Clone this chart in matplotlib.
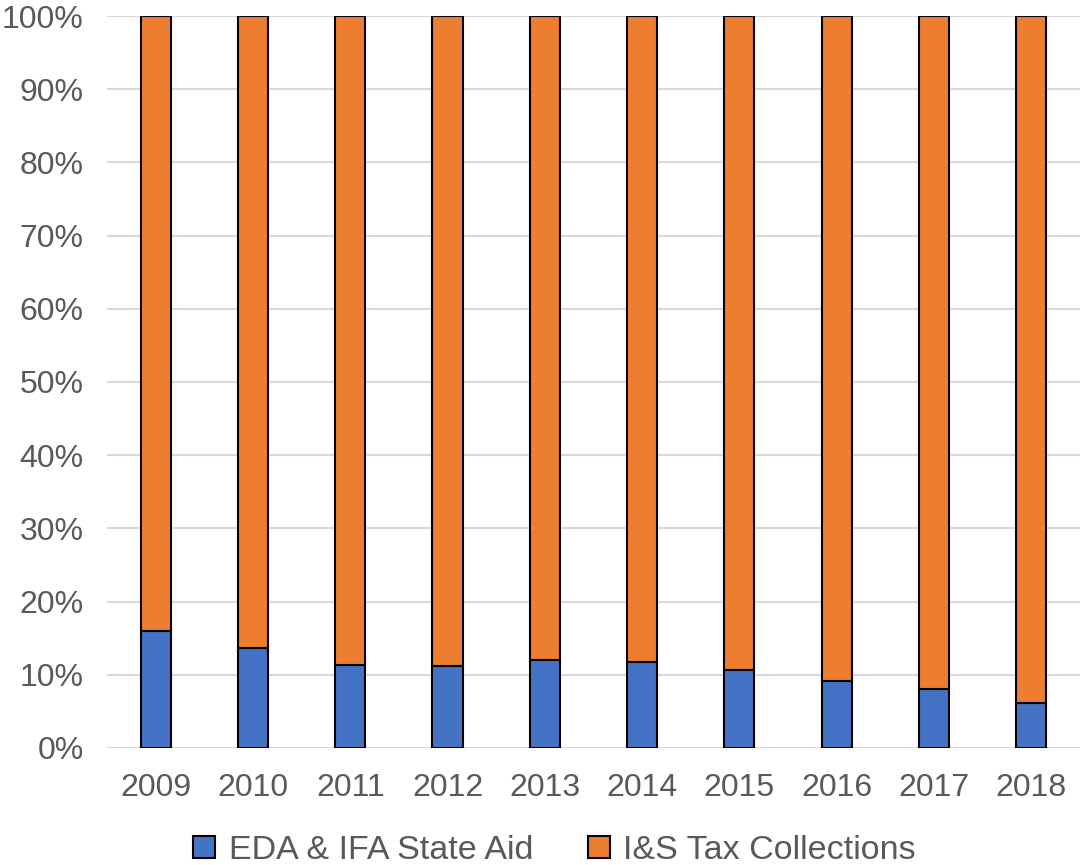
import matplotlib.pyplot as plt
from matplotlib.ticker import PercentFormatter

years = ['2009', '2010', '2011', '2012', '2013', '2014', '2015', '2016', '2017', '2018']
state_aid = [16.0, 13.7, 11.3, 11.2, 12.0, 11.7, 10.7, 9.1, 8.1, 6.1]
tax_collections = [100 - v for v in state_aid]

blue = '#4472c4'
orange = '#ed7d31'
text_gray = '#595959'

plt.rcParams['font.family'] = ['Liberation Sans', 'DejaVu Sans']

fig = plt.figure(figsize=(10.82, 8.65), dpi=100)
ax = fig.add_axes([0.099, 0.1353, 0.899, 0.8462])

x = range(len(years))
ax.bar(x, state_aid, width=0.31, color=blue, edgecolor='black', linewidth=1.5,
       label='EDA & IFA State Aid', zorder=3)
ax.bar(x, tax_collections, width=0.31, bottom=state_aid, color=orange,
       edgecolor='black', linewidth=1.5, label='I&S Tax Collections', zorder=3)

ax.set_ylim(0, 100)
ax.set_xlim(-0.5, len(years) - 0.5)
ax.set_yticks(range(0, 101, 10))
ax.yaxis.set_major_formatter(PercentFormatter(decimals=0))
ax.set_xticks(list(x))
ax.set_xticklabels(years)
ax.grid(axis='y', color='#d9d9d9', linewidth=1.5, zorder=0)
ax.set_axisbelow(True)
for s in ax.spines.values():
    s.set_visible(False)
ax.tick_params(length=0, labelsize=23, colors=text_gray)
ax.tick_params(axis='x', pad=18)
ax.tick_params(axis='y', pad=17)

ax.legend(loc='center', bbox_to_anchor=(0.46, -0.14), ncol=2, frameon=False,
          fontsize=24.5, labelcolor=text_gray, handlelength=0.65, handleheight=0.65,
          handletextpad=0.4, columnspacing=1.6, borderpad=0)

fig.savefig('out.png', dpi=100)
